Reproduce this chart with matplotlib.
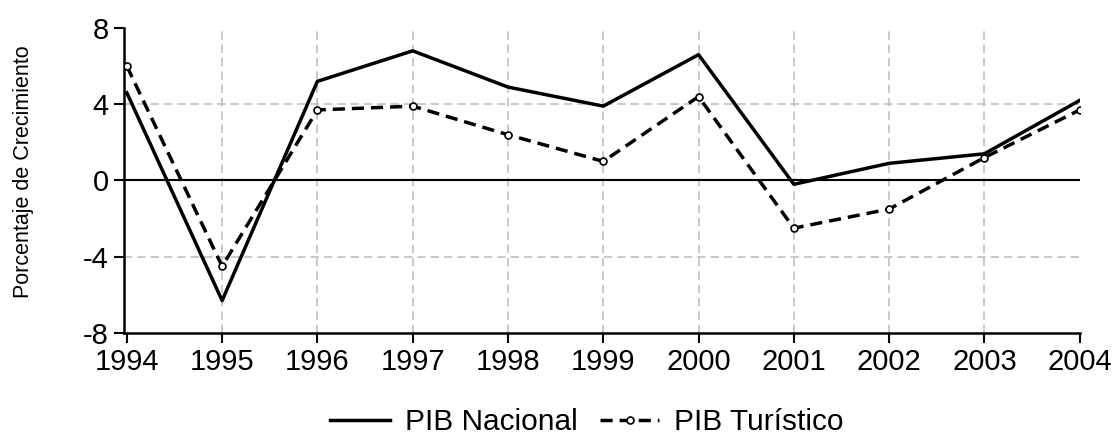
import matplotlib.pyplot as plt

plt.rcParams['font.family'] = ['Liberation Sans', 'DejaVu Sans']
plt.rcParams['axes.unicode_minus'] = False

years = [1994, 1995, 1996, 1997, 1998, 1999, 2000, 2001, 2002, 2003, 2004]
pib_nacional = [4.6, -6.3, 5.2, 6.8, 4.9, 3.9, 6.6, -0.2, 0.9, 1.4, 4.2]
pib_turistico = [6.0, -4.5, 3.7, 3.9, 2.4, 1.0, 4.4, -2.5, -1.5, 1.2, 3.7]
yticks = [-8, -4, 0, 4, 8]

fig = plt.figure(figsize=(11.2, 4.37), dpi=100)
ax = fig.add_axes([0.1107, 0.238, 0.8533, 0.698])

# grid
for yr in years[1:-1]:
    ax.axvline(yr, color='#c0c0c0', lw=1.2, ls=(0, (5, 3)), zorder=0)
for v in [-4, 4]:
    ax.axhline(v, color='#c0c0c0', lw=1.2, ls=(0, (5, 3)), zorder=0)
ax.axhline(0, color='black', lw=1.5, zorder=1)

ax.plot(years, pib_nacional, color='black', lw=2.5, label='PIB Nacional', zorder=3)
ax.plot(years, pib_turistico, color='black', lw=2.5, ls=(0, (3.5, 2)),
        marker='o', ms=5, mfc='white', mec='black', mew=1.2,
        label='PIB Turístico', zorder=4)

ax.set_xlim(1993.97, 2004)
ax.set_ylim(-8, 8)
ax.set_xticks(years)
ax.set_yticks(yticks)
ax.tick_params(axis='both', labelsize=21, width=1.5, length=7, direction='out', pad=4)

for s in ['top', 'right']:
    ax.spines[s].set_visible(False)
for s in ['left', 'bottom']:
    ax.spines[s].set_linewidth(1.8)

ax.set_ylabel('Porcentaje de Crecimiento', fontsize=15.5)
ax.yaxis.set_label_coords(-0.094, 0.528)

fig.legend(loc='lower center', bbox_to_anchor=(0.524, -0.06), ncol=2, frameon=False,
           fontsize=21.5, handlelength=2.0, handletextpad=0.5, columnspacing=0.75,
           numpoints=1)

fig.savefig('out.png', dpi=100)
